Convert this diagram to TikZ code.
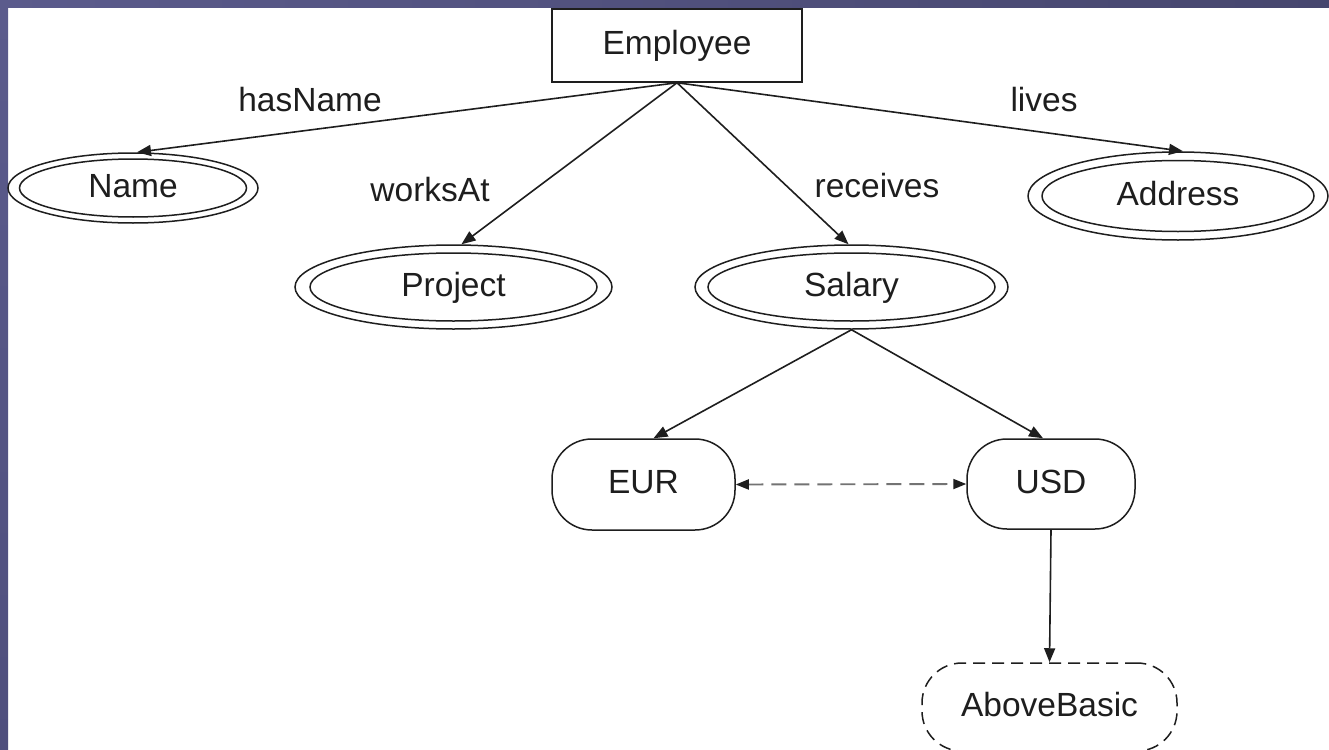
\documentclass[tikz,border=0pt]{standalone}
\usepackage{fontspec}
\setmainfont{Liberation Sans}
\usetikzlibrary{arrows.meta,shapes.geometric}
\definecolor{frameA}{HTML}{5B5B8C}
\definecolor{frameB}{HTML}{46466E}
\definecolor{frameC}{HTML}{4F4F7D}
\definecolor{ink}{HTML}{1E1E1E}
\begin{document}
\begin{tikzpicture}[x=1pt,y=-1pt,
  font=\fontsize{33.5}{40}\selectfont,
  lbl/.style={text=ink, inner sep=0pt, text height=24pt, text depth=5.5pt},
  entity/.style={lbl, draw=ink, line width=1.5pt, rectangle},
  concept/.style={lbl, draw=ink, line width=1.5pt, ellipse},
  inner ring/.style={draw=ink, line width=1.5pt},
  value/.style={lbl, draw=ink, line width=1.5pt, rectangle, rounded corners=40pt},
  link/.style={draw=ink, line width=1.6pt, -{Triangle[length=14pt,width=11pt]}},
  peer/.style={draw=black!55, line width=1.9pt, dash pattern=on 15pt off 8pt,
    {Triangle[length=13pt,width=10pt,color=ink]}-{Triangle[length=13pt,width=10pt,color=ink]}},
]
\useasboundingbox (0,0) rectangle (1329,749);
\clip (0,0) rectangle (1329,749);
\fill[white] (0,0) rectangle (1329,749);
% slide frame
\shade[left color=frameA, right color=frameB] (0,0) rectangle (1329,8);
\shade[top color=frameA, bottom color=frameC] (0,8) rectangle (8,749);

% class
\node[entity, minimum width=250pt, minimum height=73pt] (emp) at (677,45.5) {Employee};

% properties (double ellipses)
\node[concept, minimum width=250pt, minimum height=70pt] (name) at (133,188) {Name};
\draw[inner ring] (name.center) ellipse [x radius=113.5pt, y radius=29pt];
\node[concept, minimum width=317pt, minimum height=84pt] (proj) at (453.5,287) {Project};
\draw[inner ring] (proj.center) ellipse [x radius=143.5pt, y radius=34pt];
\node[concept, minimum width=313pt, minimum height=84pt] (sal) at (851.5,287) {Salary};
\draw[inner ring] (sal.center) ellipse [x radius=143.5pt, y radius=34pt];
\node[concept, minimum width=300pt, minimum height=88pt] (addr) at (1178,196) {Address};
\draw[inner ring] (addr.center) ellipse [x radius=136pt, y radius=35.5pt];

% values
\node[value, minimum width=183pt, minimum height=91pt] (eur) at (643.5,484.5) {EUR};
\node[value, minimum width=168pt, minimum height=90pt] (usd) at (1051,484) {USD};
\node[value, dash pattern=on 12pt off 7pt, minimum width=255pt, minimum height=88pt] (above) at (1049.5,707) {AboveBasic};

% relations
\draw[link] (emp.south) -- ([xshift=4pt]name.north);
\draw[link] (emp.south) -- ([xshift=8pt]proj.north);
\draw[link] (emp.south) -- ([xshift=-3pt]sal.north);
\draw[link] (emp.south) -- ([xshift=5pt]addr.north);
\draw[link] (sal.south) -- ([xshift=10pt]eur.north);
\draw[link] (sal.south) -- ([xshift=-8pt]usd.north);
\draw[peer] (eur.east) -- (usd.west);
\draw[link] (usd.south) -- (above.north);

% relation labels
\node[lbl] (lhas) at (310,102) {hasName};
\node[lbl] (lworks) at (430,192) {worksAt};
\node[lbl] (lrec) at (877,188) {receives};
\node[lbl] (llives) at (1044,102) {lives};
\end{tikzpicture}
\end{document}
